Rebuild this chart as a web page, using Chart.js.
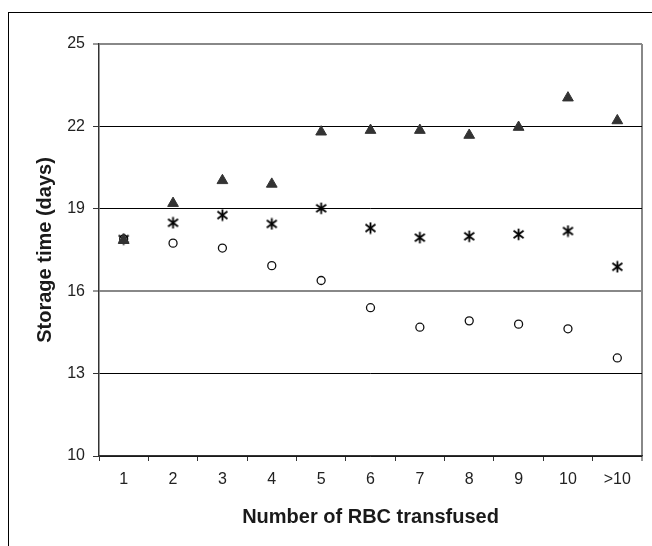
<!DOCTYPE html>
<html>
<head>
<meta charset="utf-8">
<script src="https://cdn.jsdelivr.net/npm/chart.js@4/dist/chart.umd.min.js"></script>
<style>
  body { margin: 0; background: #fff; }
  #wrap { position: relative; width: 652px; height: 546px; overflow: hidden; }
  #frame { position: absolute; left: 8px; top: 12px; width: 700px; height: 600px;
           border-top: 1px solid #000; border-left: 1px solid #000; }
  #chart { position: absolute; left: 0; top: 0; }
</style>
</head>
<body>
<div id="wrap">
  <div id="frame"></div>
  <canvas id="chart" width="652" height="546"></canvas>
</div>
<script>
// categories + series
const categories = ['1', '2', '3', '4', '5', '6', '7', '8', '9', '10', '>10'];
const triangleValues = [17.85, 19.2, 20.03, 19.9, 21.8, 21.86, 21.86, 21.68, 21.97, 23.04, 22.21];
const asteriskValues = [17.9, 18.49, 18.77, 18.45, 19.02, 18.3, 17.95, 18.0, 18.07, 18.19, 16.89];
const circleValues = [17.9, 17.75, 17.57, 16.93, 16.39, 15.4, 14.69, 14.92, 14.8, 14.63, 13.57];
const yTicks = [10, 13, 16, 19, 22, 25];

const FONT = "'Liberation Sans', Arial, sans-serif";

// asterisk marker (X with a vertical stroke), like the Excel star
function makeAsterisk() {
  const c = document.createElement('canvas');
  c.width = 13; c.height = 13;
  const g = c.getContext('2d');
  g.strokeStyle = '#000';
  g.lineWidth = 1.8;
  g.beginPath();
  g.moveTo(6.5, 0.8); g.lineTo(6.5, 12.2);
  g.moveTo(1.5, 2.8); g.lineTo(11.5, 10.2);
  g.moveTo(11.5, 2.8); g.lineTo(1.5, 10.2);
  g.stroke();
  return c;
}
const asterisk = makeAsterisk();

function gridColorY(ctx) {
  const v = ctx.tick ? ctx.tick.value : null;
  if (v === 25 || v === 16) return '#888';
  return '#000';
}

new Chart(document.getElementById('chart').getContext('2d'), {
  type: 'line',
  data: {
    labels: categories,
    datasets: [
      {
        data: triangleValues,
        showLine: false,
        pointStyle: 'triangle',
        pointRadius: 6.2,
        pointHoverRadius: 6.2,
        backgroundColor: '#333',
        borderColor: '#333',
        borderWidth: 1
      },
      {
        data: asteriskValues,
        showLine: false,
        pointStyle: asterisk,
        pointRadius: 6,
        pointHoverRadius: 6
      },
      {
        data: circleValues,
        showLine: false,
        pointStyle: 'circle',
        pointRadius: 4,
        pointHoverRadius: 4,
        backgroundColor: 'rgba(255,255,255,0)',
        borderColor: '#111',
        borderWidth: 1.3
      }
    ]
  },
  options: {
    responsive: false,
    animation: false,
    events: [],
    layout: { padding: { left: 0, top: 44, right: 10, bottom: 0 } },
    plugins: { legend: { display: false }, tooltip: { enabled: false } },
    scales: {
      x: {
        type: 'category',
        offset: true,
        afterFit: s => { s.height = 90; },
        border: { display: true, color: '#333', width: 1.5 },
        grid: {
          offset: true,
          drawOnChartArea: true,
          color: ctx => ctx.type === 'tick' ? 'rgba(0,0,0,0)' : '#888',
          lineWidth: ctx => ctx.type === 'tick' ? 1 : 2,
          tickLength: 5,
          tickColor: '#333',
          tickWidth: 1
        },
        ticks: {
          color: '#222',
          padding: 9,
          maxRotation: 0,
          font: { family: FONT, size: 16 }
        },
        title: {
          display: true,
          text: 'Number of RBC transfused',
          color: '#1a1a1a',
          padding: { top: 0, bottom: 17 },
          font: { family: FONT, size: 20, weight: 'bold' }
        }
      },
      y: {
        min: 10,
        max: 25,
        afterFit: s => { s.width = 99; },
        afterBuildTicks: s => { s.ticks = yTicks.map(v => ({ value: v })); },
        border: { display: true, color: '#333', width: 1.5 },
        grid: {
          color: gridColorY,
          lineWidth: ctx => (ctx.tick && (ctx.tick.value === 16 || ctx.tick.value === 25)) ? 2 : 1,
          tickLength: 6,
          tickColor: '#333',
          tickWidth: 1
        },
        ticks: {
          color: '#222',
          padding: 8,
          font: { family: FONT, size: 16 }
        },
        title: {
          display: true,
          text: 'Storage time (days)',
          color: '#1a1a1a',
          padding: { top: 33, bottom: 0 },
          font: { family: FONT, size: 20, weight: 'bold' }
        }
      }
    }
  }
});
</script>
</body>
</html>
